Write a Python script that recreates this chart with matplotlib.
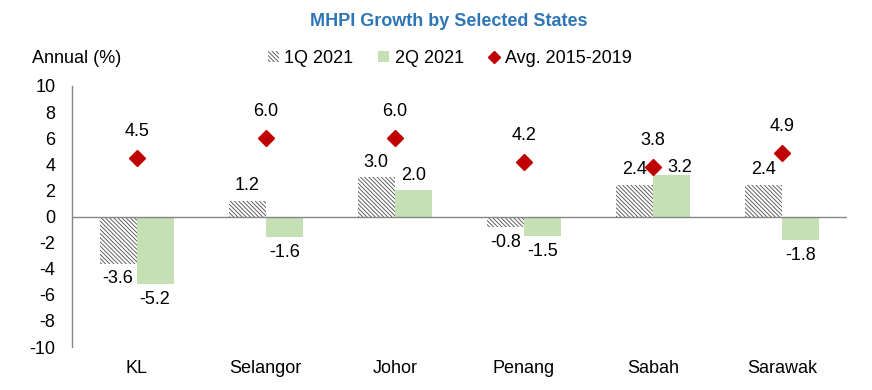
import numpy as np
import matplotlib.pyplot as plt
from matplotlib.patches import Patch
from matplotlib.lines import Line2D

states = ['KL', 'Selangor', 'Johor', 'Penang', 'Sabah', 'Sarawak']
q1_2021 = [-3.6, 1.2, 3.0, -0.8, 2.4, 2.4]
q2_2021 = [-5.2, -1.6, 2.0, -1.5, 3.2, -1.8]
avg_2015_2019 = [4.5, 6.0, 6.0, 4.2, 3.8, 4.9]
yticks = np.arange(-10, 11, 2)

plt.rcParams['font.family'] = ['Liberation Sans', 'DejaVu Sans']
plt.rcParams['font.size'] = 13
plt.rcParams['hatch.linewidth'] = 0.6

fig = plt.figure(figsize=(8.72, 3.9), dpi=100)
ax = fig.add_axes([0.0826, 0.110, 0.8884, 0.6695])

x = np.arange(len(states))
w = 0.287
grey = '#868686'
green = '#C5E0B4'
red = '#C00000'
hatch = '\\' * 8

ax.bar(x - w/2, q1_2021, width=w, color='white', edgecolor='#4a4a4a',
       hatch=hatch, linewidth=0)
ax.bar(x + w/2, q2_2021, width=w, color=green, linewidth=0)
ax.plot(x, avg_2015_2019, linestyle='none', marker='D', markersize=8,
        color=red, zorder=4)

# value labels (Sabah 2Q label nudged aside the diamond, as in the original)
for i in range(len(states)):
    for xi, v in ((x[i] - w/2, q1_2021[i]), (x[i] + w/2, q2_2021[i])):
        off = (0, 11) if v >= 0 else (0, -11)
        if states[i] == 'Sabah' and xi > x[i]:
            off = (6, 5)
        ax.annotate(f'{v:.1f}', (xi, v), xytext=off, textcoords='offset points',
                    ha='center', va='center')
    ax.annotate(f'{avg_2015_2019[i]:.1f}', (x[i], avg_2015_2019[i]), xytext=(0, 19),
                textcoords='offset points', ha='center', va='center')

ax.axhline(0, color=grey, linewidth=1, zorder=3)
ax.set_xlim(-0.5, len(states) - 0.5)
ax.set_ylim(-10, 10)
ax.set_yticks(yticks)
ax.set_yticklabels([str(t) for t in yticks])
ax.set_xticks(x)
ax.set_xticklabels(states)
ax.tick_params(axis='y', length=0, pad=12)
ax.tick_params(axis='x', length=0, pad=9)
for s in ['top', 'right', 'bottom']:
    ax.spines[s].set_visible(False)
ax.spines['left'].set_color(grey)
ax.spines['left'].set_linewidth(1)

fig.text(0.515, 0.944, 'MHPI Growth by Selected States', ha='center', va='center',
         fontsize=13, fontweight='bold', color='#2E75B6')
fig.text(0.037, 0.851, 'Annual (%)', ha='left', va='center')

handles = [
    Patch(facecolor='white', edgecolor='#4a4a4a', hatch=hatch, linewidth=0),
    Patch(facecolor=green, linewidth=0),
    Line2D([], [], linestyle='none', marker='D', markersize=6, color=red),
]
fig.legend(handles, ['1Q 2021', '2Q 2021', 'Avg. 2015-2019'], ncol=3,
           loc='center', bbox_to_anchor=(0.516, 0.851), frameon=False,
           handlelength=0.6, handleheight=0.6, handletextpad=0.3,
           columnspacing=1.4)

fig.savefig('out.png', dpi=100)
